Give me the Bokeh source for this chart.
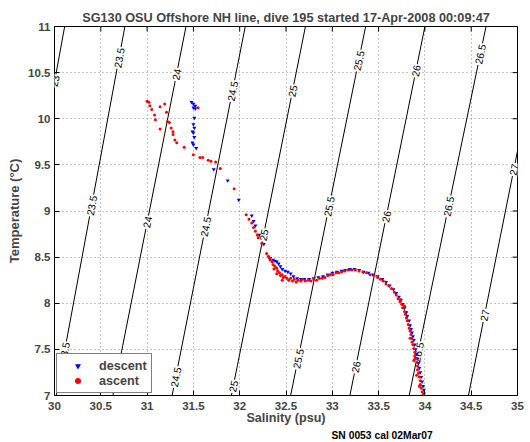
import math
from bokeh.plotting import figure
from bokeh.models import (Range1d, FixedTicker, Legend, LegendItem, Title)
from bokeh.core.properties import value
from bokeh.embed import file_html
from bokeh.resources import INLINE

# ---------------- data ----------------
x_ticks = [30, 30.5, 31, 31.5, 32, 32.5, 33, 33.5, 34, 34.5, 35]
x_tick_labels = ["30", "30.5", "31", "31.5", "32", "32.5", "33", "33.5", "34", "34.5", "35"]
y_ticks = [7, 7.5, 8, 8.5, 9, 9.5, 10, 10.5, 11]
y_tick_labels = ["7", "7.5", "8", "8.5", "9", "9.5", "10", "10.5", "11"]

# isopycnals (sigma-theta): salinity where each line crosses T=7 and T=11
sigma_levels = ["23", "23.5", "24", "24.5", "25", "25.5", "26", "26.5", "27"]
sigma_s_at_t7 = [29.38, 30.02, 30.63, 31.27, 31.91, 32.55, 33.19, 33.83, 34.47]
sigma_s_at_t11 = [30.11, 30.76, 31.42, 32.06, 32.71, 33.36, 34.00, 34.66, 35.27]

# contour label placement (level, temperature along the line)
label_levels = ["23",
                "23.5", "23.5", "23.5",
                "24", "24", "24",
                "24.5", "24.5", "24.5",
                "25", "25", "25",
                "25.5", "25.5", "25.5",
                "26", "26", "26",
                "26.5", "26.5", "26.5",
                "27", "27"]
label_temps = [10.41,
               10.66, 9.06, 7.47,
               10.48, 8.88, 7.30,
               10.30, 8.83, 7.20,
               10.30, 8.74, 7.10,
               10.63, 9.05, 7.40,
               10.52, 8.94, 7.31,
               10.70, 9.05, 7.47,
               9.45, 7.87]

descent_salinity = [31.48, 31.50, 31.52, 31.50, 31.52, 31.51, 31.50, 31.51, 31.49, 31.50, 31.51,
                    31.49, 31.50, 31.53, 31.72, 31.87, 31.99, 32.13, 32.15, 32.17, 32.21, 32.26,
                    32.33, 32.36, 32.38, 32.40, 32.42, 32.44, 32.46, 32.49, 32.52, 32.55, 32.58,
                    32.62, 32.66, 32.70, 32.75, 32.80, 32.85, 32.90, 32.95, 33.00, 33.05, 33.10,
                    33.14, 33.19, 33.24, 33.29, 33.34, 33.39, 33.44, 33.49, 33.54, 33.58, 33.62,
                    33.66, 33.69, 33.72, 33.74, 33.76, 33.78, 33.80, 33.81, 33.83, 33.84, 33.85,
                    33.86, 33.87, 33.88, 33.89, 33.90, 33.91, 33.92, 33.93, 33.94, 33.95, 33.96,
                    33.97, 33.98, 33.99, 33.99]
descent_temperature = [10.18, 10.16, 10.14, 10.12, 10.11, 10.01, 9.94, 9.90, 9.86, 9.85, 9.80,
                       9.74, 9.72, 9.68, 9.45, 9.33, 9.12, 8.95, 8.89, 8.84, 8.74, 8.64,
                       8.49, 8.47, 8.46, 8.45, 8.43, 8.40, 8.37, 8.35, 8.34, 8.32, 8.29,
                       8.27, 8.26, 8.26, 8.26, 8.27, 8.28, 8.29, 8.31, 8.33, 8.34, 8.35,
                       8.36, 8.37, 8.37, 8.36, 8.34, 8.33, 8.31, 8.29, 8.26, 8.23, 8.19,
                       8.15, 8.11, 8.07, 8.03, 7.99, 7.95, 7.90, 7.86, 7.81, 7.76, 7.72,
                       7.68, 7.64, 7.60, 7.55, 7.50, 7.45, 7.40, 7.35, 7.30, 7.25, 7.20,
                       7.15, 7.10, 7.06, 7.02]

ascent_salinity = [31.00, 31.02, 31.03, 31.05, 31.08, 31.09, 31.14, 31.19, 31.21, 31.22, 31.24,
                   31.26, 31.28, 31.28, 31.30, 31.32, 31.14, 31.40, 31.50, 31.57, 31.60, 31.66,
                   31.69, 31.74, 31.79, 31.55, 31.94, 32.07, 32.10, 32.13, 32.15, 32.17, 32.19,
                   32.20, 32.24,
                   32.29, 32.31, 32.32, 32.33, 32.35, 32.36, 32.38, 32.37, 32.40, 32.41, 32.40,
                   32.43, 32.44, 32.46, 32.47, 32.46, 32.49, 32.51, 32.53, 32.55, 32.57, 32.59,
                   32.61, 32.63, 32.66, 32.68, 32.71, 32.74, 32.77, 32.80, 32.83, 32.86, 32.89,
                   32.92, 32.95, 32.98, 33.01, 33.04, 33.07, 33.10, 33.13, 33.17, 33.21, 33.25,
                   33.29, 33.33, 33.37, 33.41, 33.45, 33.49, 33.52, 33.55, 33.58, 33.61, 33.64,
                   33.67, 33.69, 33.71, 33.73, 33.75, 33.76, 33.78, 33.79, 33.80, 33.81, 33.82,
                   33.83, 33.84, 33.85, 33.86, 33.86, 33.87, 33.88, 33.89, 33.89, 33.90, 33.91,
                   33.92, 33.92, 33.93, 33.94, 33.95, 33.95, 33.96, 33.97, 33.98,
                   33.74, 33.78, 33.84, 33.88, 33.91, 33.94]
ascent_temperature = [10.19, 10.18, 10.14, 10.10, 10.04, 9.99, 10.13, 10.16, 10.07, 9.97, 9.96,
                      9.90, 9.86, 9.83, 9.77, 9.74, 9.89, 9.69, 9.61, 9.58, 9.58, 9.55,
                      9.54, 9.53, 9.46, 10.12, 9.24, 8.96, 8.91, 8.87, 8.82, 8.78, 8.74,
                      8.71, 8.65,
                      8.54, 8.51, 8.49, 8.47, 8.45, 8.42, 8.40, 8.37, 8.38, 8.35, 8.32,
                      8.33, 8.30, 8.31, 8.28, 8.25, 8.29, 8.27, 8.25, 8.27, 8.24, 8.26,
                      8.23, 8.25, 8.24, 8.26, 8.24, 8.25, 8.24, 8.26, 8.25, 8.27, 8.27,
                      8.28, 8.30, 8.31, 8.31, 8.33, 8.33, 8.34, 8.35, 8.36, 8.36, 8.36,
                      8.35, 8.34, 8.33, 8.31, 8.30, 8.28, 8.26, 8.24, 8.21, 8.19, 8.16,
                      8.12, 8.09, 8.05, 8.02, 7.99, 7.95, 7.91, 7.88, 7.84, 7.81, 7.77,
                      7.73, 7.70, 7.66, 7.62, 7.58, 7.55, 7.51, 7.47, 7.43, 7.40, 7.36,
                      7.32, 7.28, 7.24, 7.20, 7.16, 7.12, 7.08, 7.04, 7.01,
                      8.04, 7.97, 7.62, 7.38, 7.22, 7.10]

title_text = "SG130 OSU Offshore NH line, dive 195 started 17-Apr-2008 00:09:47"
x_label = "Salinity (psu)"
y_label = "Temperature (\u00b0C)"
footer_text = "SN 0053 cal 02Mar07"

# ---------------- figure ----------------
FONT = "Liberation Sans"
X0, X1, Y0, Y1 = 30, 35, 7, 11
FW, FH = 463, 369

p = figure(output_backend="svg", toolbar_location=None,
           frame_width=FW, frame_height=FH,
           x_range=Range1d(X0, X1), y_range=Range1d(Y0, Y1),
           min_border_left=54, min_border_right=11, min_border_top=26, min_border_bottom=45,
           x_axis_label=x_label, y_axis_label=y_label)
p.background_fill_color = "white"
p.border_fill_color = "white"
p.outline_line_color = "black"
p.outline_line_width = 1

p.title.text = title_text
p.title.align = "center"
p.title.text_font = FONT
p.title.text_font_size = "12.7px"
p.title.text_font_style = "bold"
p.title.standoff = 4

for ax in (p.xaxis[0], p.yaxis[0]):
    ax.axis_line_color = None
    ax.major_tick_in = 5
    ax.major_tick_out = 0
    ax.minor_tick_in = 0
    ax.minor_tick_out = 0
    ax.major_label_text_font = FONT
    ax.major_label_text_font_size = "11.5px"
    ax.major_label_text_font_style = "bold"
    ax.axis_label_text_font = FONT
    ax.axis_label_text_font_style = "bold"

p.xaxis[0].axis_label_text_font_size = "12.6px"
p.yaxis[0].axis_label_text_font_size = "13px"
p.xaxis[0].ticker = FixedTicker(ticks=x_ticks)
p.xaxis[0].major_label_overrides = {t: l for t, l in zip(x_ticks, x_tick_labels)}
p.yaxis[0].ticker = FixedTicker(ticks=y_ticks)
p.yaxis[0].major_label_overrides = {t: l for t, l in zip(y_ticks, y_tick_labels)}
p.xaxis[0].major_label_standoff = 6
p.xaxis[0].axis_label_standoff = -2
p.yaxis[0].major_label_standoff = 4
p.yaxis[0].axis_label_standoff = 3

p.xgrid.ticker = FixedTicker(ticks=x_ticks)
p.ygrid.ticker = FixedTicker(ticks=y_ticks)
for g in (p.xgrid[0], p.ygrid[0]):
    g.grid_line_color = "#888888"
    g.grid_line_dash = "1 3"
    g.grid_line_width = 1

# inward box ticks on top and right edges
p.ray(x=x_ticks, y=[Y1] * len(x_ticks), length=5, length_units="screen",
      angle=-math.pi / 2, line_color="black", line_width=1)
p.ray(x=[X1] * len(y_ticks), y=y_ticks, length=5, length_units="screen",
      angle=math.pi, line_color="black", line_width=1)

# ---------------- isopycnal lines ----------------
lines_x = [[a, b] for a, b in zip(sigma_s_at_t7, sigma_s_at_t11)]
lines_y = [[Y0, Y1] for _ in sigma_levels]
p.multi_line(lines_x, lines_y, line_color="black", line_width=1)

px_per_s = FW / (X1 - X0)
px_per_t = FH / (Y1 - Y0)
lab_x, lab_y, lab_a = [], [], []
for lev, t in zip(label_levels, label_temps):
    i = sigma_levels.index(lev)
    s7, s11 = sigma_s_at_t7[i], sigma_s_at_t11[i]
    lab_x.append(s7 + (s11 - s7) * (t - Y0) / (Y1 - Y0))
    lab_y.append(t)
    lab_a.append(math.atan2((Y1 - Y0) * px_per_t, (s11 - s7) * px_per_s))
p.text(x=lab_x, y=lab_y, text=label_levels, angle=lab_a,
       text_font=value(FONT), text_font_size="10.3px", text_color="black",
       text_align="center", text_baseline="middle",
       background_fill_color="white", padding=1)

# ---------------- data ----------------
r_desc = p.scatter(descent_salinity, descent_temperature, marker="inverted_triangle",
                   size=4, fill_color="blue", line_color=None)
r_asc = p.scatter(ascent_salinity, ascent_temperature, marker="circle",
                  size=3, fill_color="red", line_color=None)

legend = Legend(items=[LegendItem(label="descent", renderers=[r_desc]),
                       LegendItem(label="ascent", renderers=[r_asc])],
                location="bottom_left", margin=2, padding=4, spacing=0,
                glyph_width=33, glyph_height=15, label_height=15, label_standoff=5,
                label_text_font=FONT, label_text_font_size="12.6px",
                label_text_font_style="bold",
                border_line_color="black", border_line_width=1,
                background_fill_color="white", background_fill_alpha=1)
p.add_layout(legend, "center")

footer = Title(text=footer_text, align="left", offset=277, standoff=0,
               text_font=FONT, text_font_size="10.3px", text_font_style="bold",
               text_color="black")
p.add_layout(footer, "below")

open("out.html", "w").write(file_html(p, INLINE))
